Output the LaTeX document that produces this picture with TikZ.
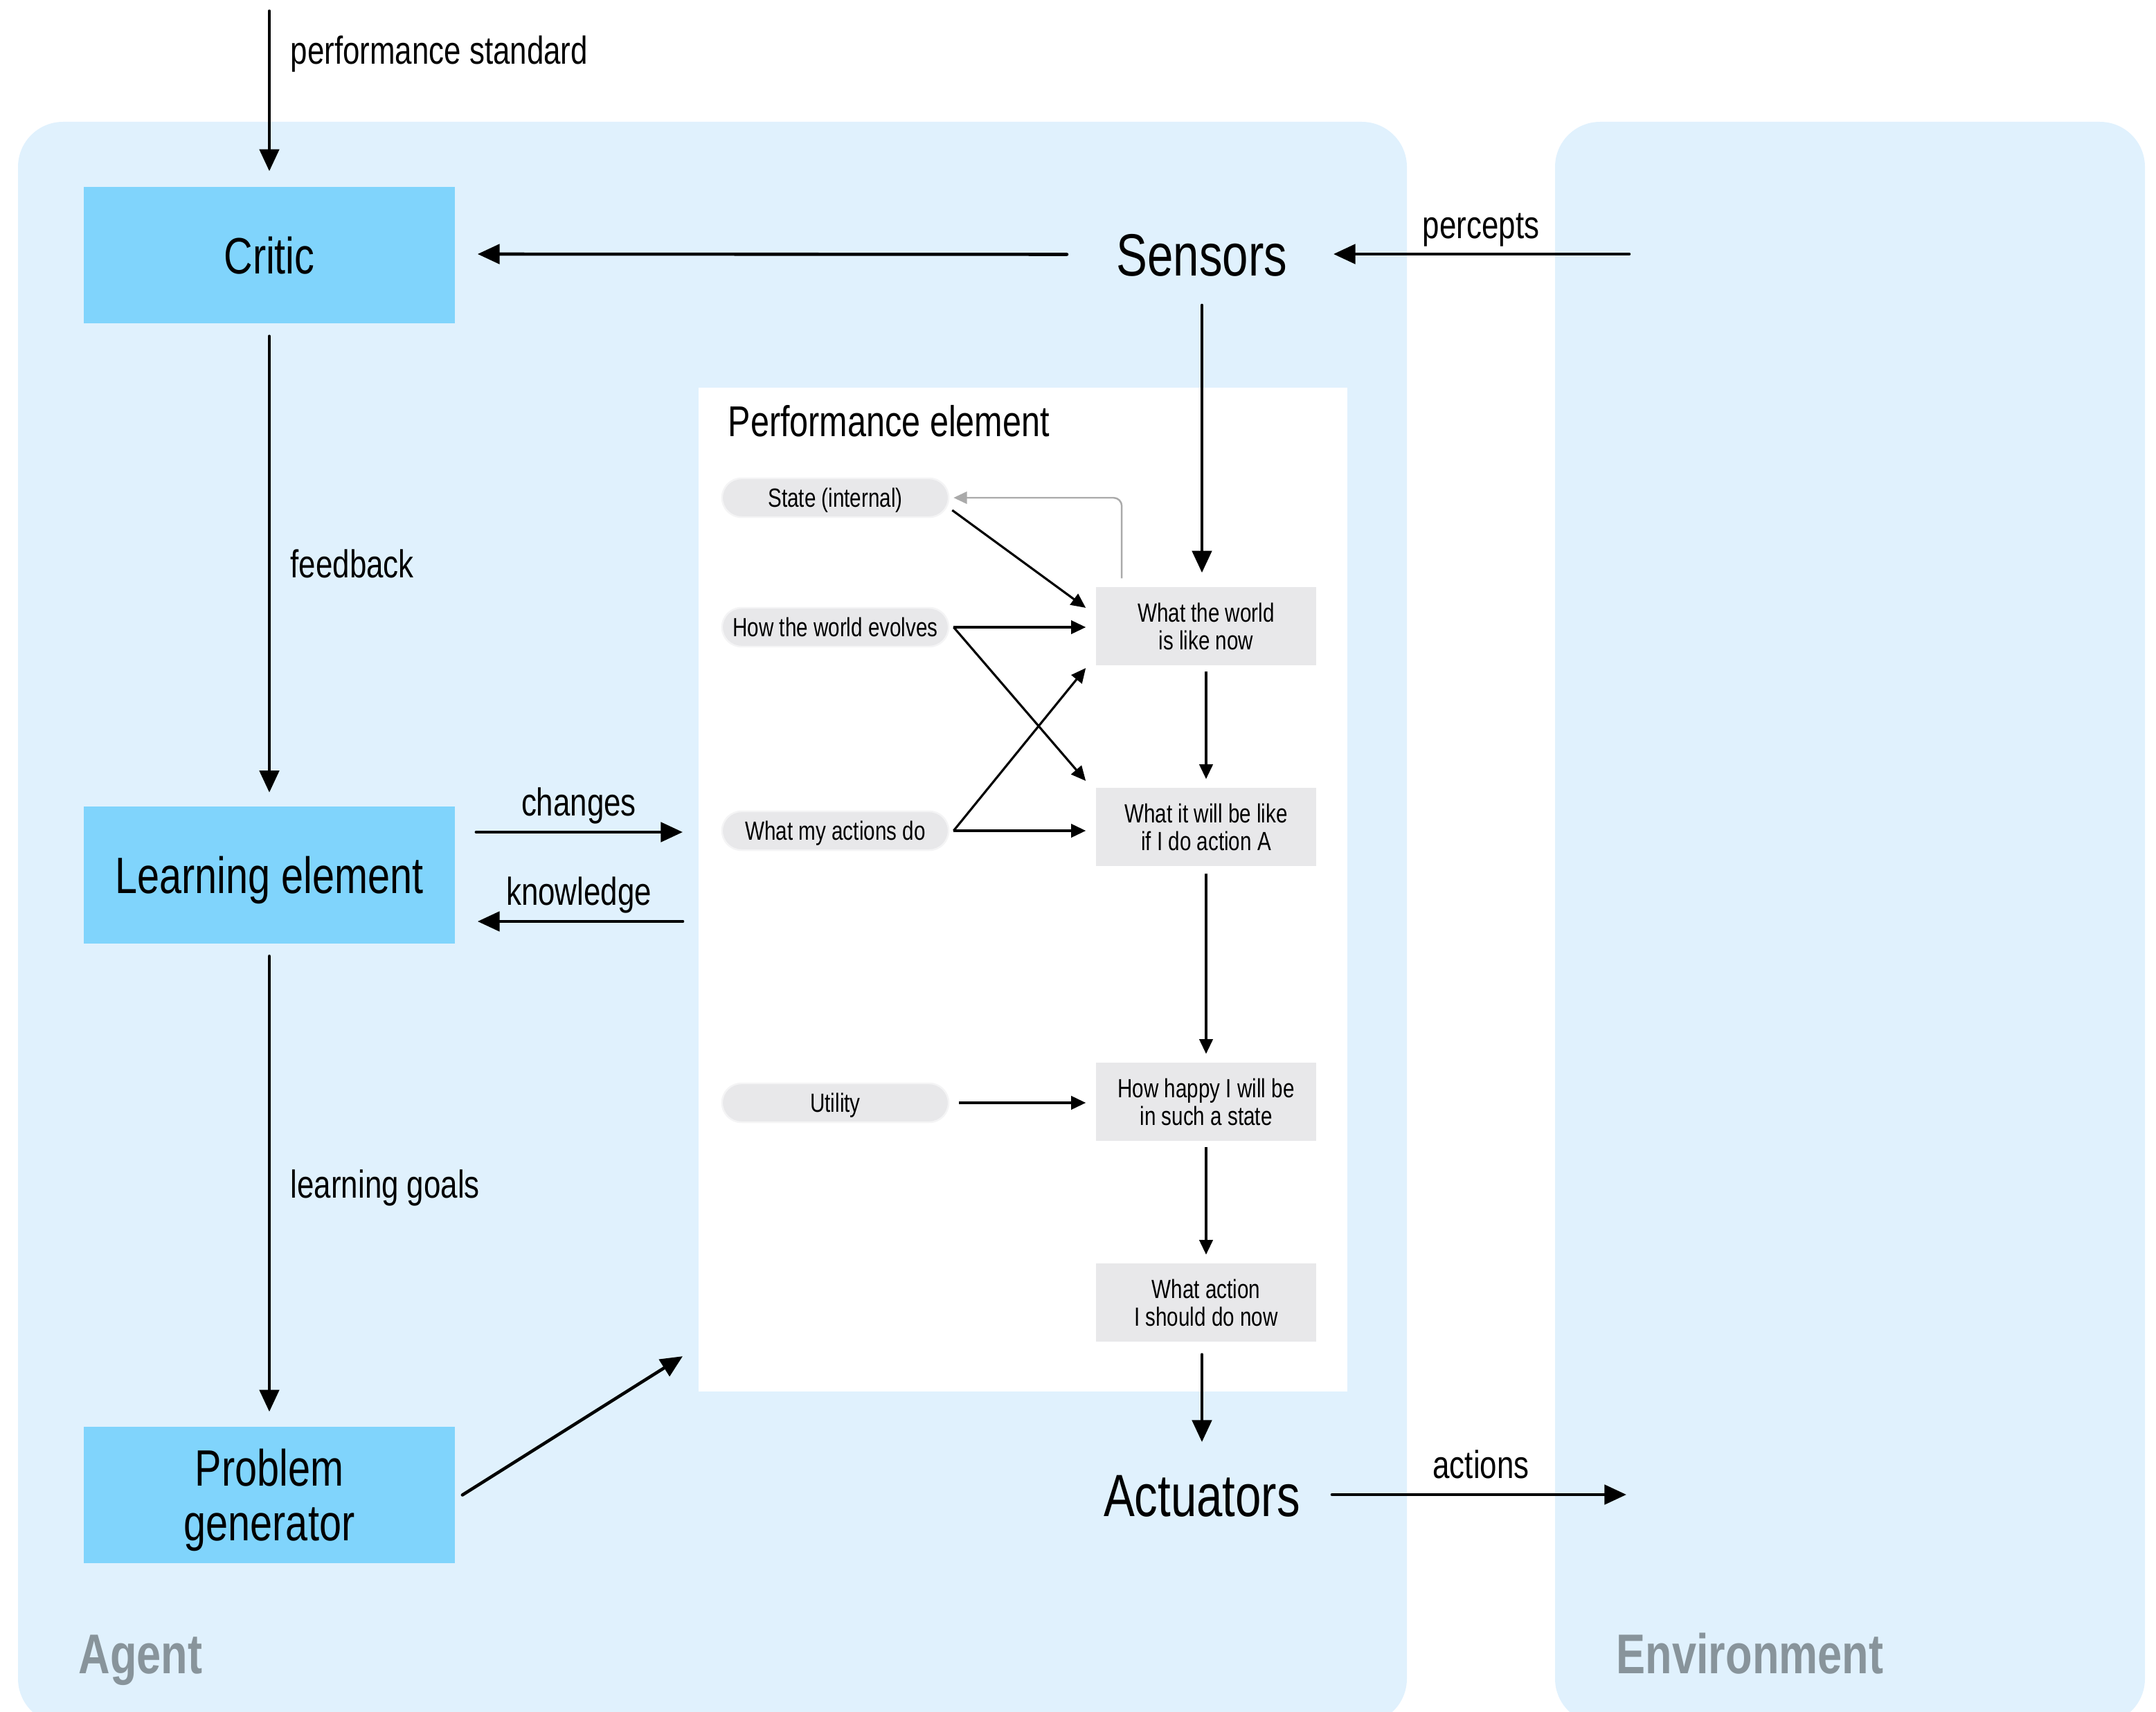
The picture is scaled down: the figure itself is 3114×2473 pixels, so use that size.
\documentclass[tikz,border=0pt]{standalone}
\usepackage{fontspec}
\setmainfont{Liberation Sans}[FakeStretch=0.78]
\usetikzlibrary{arrows.meta,calc}

\definecolor{panelblue}{RGB}{224,241,253}
\definecolor{boxblue}{RGB}{128,212,252}
\definecolor{cellgray}{RGB}{232,232,234}
\definecolor{pillrim}{RGB}{244,244,245}
\definecolor{labelgray}{RGB}{136,148,155}
\definecolor{backarrow}{RGB}{170,170,170}

\begin{document}
\begin{tikzpicture}[x=0.01cm,y=-0.01cm,
  panel/.style={fill=panelblue, rounded corners=0.65cm},
  panellabel/.style={text=labelgray, inner sep=0pt, font=\fontsize{23}{25}\selectfont\bfseries},
  mainbox/.style={fill=boxblue, minimum width=5.36cm, minimum height=1.97cm, text depth=0pt,
    align=center, inner sep=0pt, font=\fontsize{21}{22.5}\selectfont},
  port/.style={inner sep=0pt, font=\fontsize{24.5}{26}\selectfont},
  flowlabel/.style={inner sep=0pt, font=\fontsize{16}{18}\selectfont},
  pill/.style={fill=cellgray, draw=pillrim, line width=0.7pt, rounded corners=0.28cm,
    minimum width=3.27cm, minimum height=0.56cm, inner sep=0pt,
    text height=7.8pt, text depth=0pt,
    font=\fontsize{10.8}{11.4}\selectfont},
  cell/.style={fill=cellgray, minimum width=3.18cm, minimum height=1.13cm,
    align=center, inner sep=0pt, font=\fontsize{10.8}{11.4}\selectfont},
  main/.style={line width=1.3pt, line cap=round, -{Triangle[length=9pt,width=8pt]}},
  thin/.style={line width=0.9pt, -{Triangle[length=6pt,width=5.5pt]}},
  back/.style={draw=backarrow, line width=0.7pt, rounded corners=0.12cm,
    -{Triangle[length=5.5pt,width=5pt]}}
]
\useasboundingbox (0,0) rectangle (3114,2473);

% agent and environment panels
\fill[panel] (26,176) rectangle (2032,2490);
\fill[panel] (2246,176) rectangle (3098,2490);
\node[panellabel, anchor=base west] (agentlabel) at (113,2417) {Agent};
\node[panellabel, anchor=base west] (envlabel) at (2334,2417) {Environment};

% learning agent components
\node[mainbox] (critic) at (389,368.5) {Critic};
\node[mainbox] (learn) at (389,1264) {Learning element};
\node[mainbox] (prob) at (389,2159.5) {Problem\\generator};
\node[port] (sensors) at (1736,369) {Sensors};
\node[port] (actuators) at (1736,2161) {Actuators};

% performance element
\node[fill=white, minimum width=9.37cm, minimum height=14.5cm, inner sep=0pt] (pe) at (1477.5,1285) {};
\node[anchor=mid west, inner sep=0pt, font=\fontsize{17.7}{20}\selectfont] (petitle) at (1051,621) {Performance element};

\node[pill] (state) at (1206.5,719) {State (internal)};
\node[pill] (evolves) at (1206.5,906) {How the world evolves};
\node[pill] (myact) at (1206.5,1200) {What my actions do};
\node[pill] (utility) at (1206.5,1593) {Utility};

\node[cell] (world) at (1742,904.5) {What the world\\is like now};
\node[cell] (will) at (1742,1194.5) {What it will be like\\if I do action A};
\node[cell] (happy) at (1742,1591.5) {How happy I will be\\in such a state};
\node[cell] (act) at (1742,1881.5) {What action\\I should do now};

% outer connectors
\coordinate (stdtop) at (389,16);
\coordinate (envin) at (2353,367);
\coordinate (envout) at (2349,2159);

\draw[main] (stdtop) -- ($(critic.north)+(0,-22)$);
\node[flowlabel, anchor=mid west] (stdlabel) at (419,83) {performance standard};

\draw[main] ($(sensors.center)+(-195,-1.5)$) -- ($(critic.east)+(32,-1.5)$);
\draw[main] (envin) -- ($(sensors.center)+(190,-2)$);
\node[flowlabel, anchor=mid] (perceptlabel) at (2139,335) {percepts};

\draw[main] ($(critic.south)+(0,18)$) -- ($(learn.north)+(0,-20)$);
\node[flowlabel, anchor=mid west] (feedbacklabel) at (419,825) {feedback};

\draw[main] ($(learn.east)+(30,-62)$) -- ($(pe.west |- learn.east)+(-22,-62)$);
\node[flowlabel, anchor=mid] (changeslabel) at (836,1169) {changes};
\draw[main] ($(pe.west |- learn.east)+(-22,67)$) -- ($(learn.east)+(32,67)$);
\node[flowlabel, anchor=mid] (knowlabel) at (836,1298) {knowledge};

\draw[main] ($(learn.south)+(0,18)$) -- ($(prob.north)+(0,-21)$);
\node[flowlabel, anchor=mid west] (goalslabel) at (419,1721) {learning goals};

\draw[main] ($(prob.east)+(10,0)$) -- ($(pe.south west)+(-22,-52)$);

\draw[main] ($(actuators.center)+(188,-2)$) -- (envout);
\node[flowlabel, anchor=mid] (actionslabel) at (2139,2126) {actions};

\draw[main] ($(sensors.center)+(0,72)$) -- ($(world.north -| sensors.center)+(0,-20)$);
\draw[main] ($(act.south -| actuators.center)+(0,18)$) -- ($(actuators.center)+(0,-78)$);

% connectors inside the performance element
\draw[back] ($(world.north west)+(38,-12)$) |- ($(state.east)+(6,0)$);
\draw[thin] ($(state.east)+(4,18)$) -- ($(world.west)+(-14,-26.5)$);
\draw[thin] ($(evolves.east)+(6,0)$) -- ($(world.west |- evolves.east)+(-14,0)$);
\draw[thin] ($(evolves.east)+(6,0)$) -- ($(will.west)+(-14,-66.5)$);
\draw[thin] ($(myact.east)+(6,0)$) -- ($(world.west)+(-14,60.5)$);
\draw[thin] ($(myact.east)+(6,0)$) -- ($(will.west |- myact.east)+(-14,0)$);
\draw[thin] ($(world.south)+(0,8)$) -- ($(will.north)+(0,-12)$);
\draw[thin] ($(will.south)+(0,10)$) -- ($(happy.north)+(0,-12)$);
\draw[thin] ($(utility.east)+(14,0)$) -- ($(happy.west |- utility.east)+(-14,0)$);
\draw[thin] ($(happy.south)+(0,8)$) -- ($(act.north)+(0,-12)$);
\end{tikzpicture}
\end{document}
